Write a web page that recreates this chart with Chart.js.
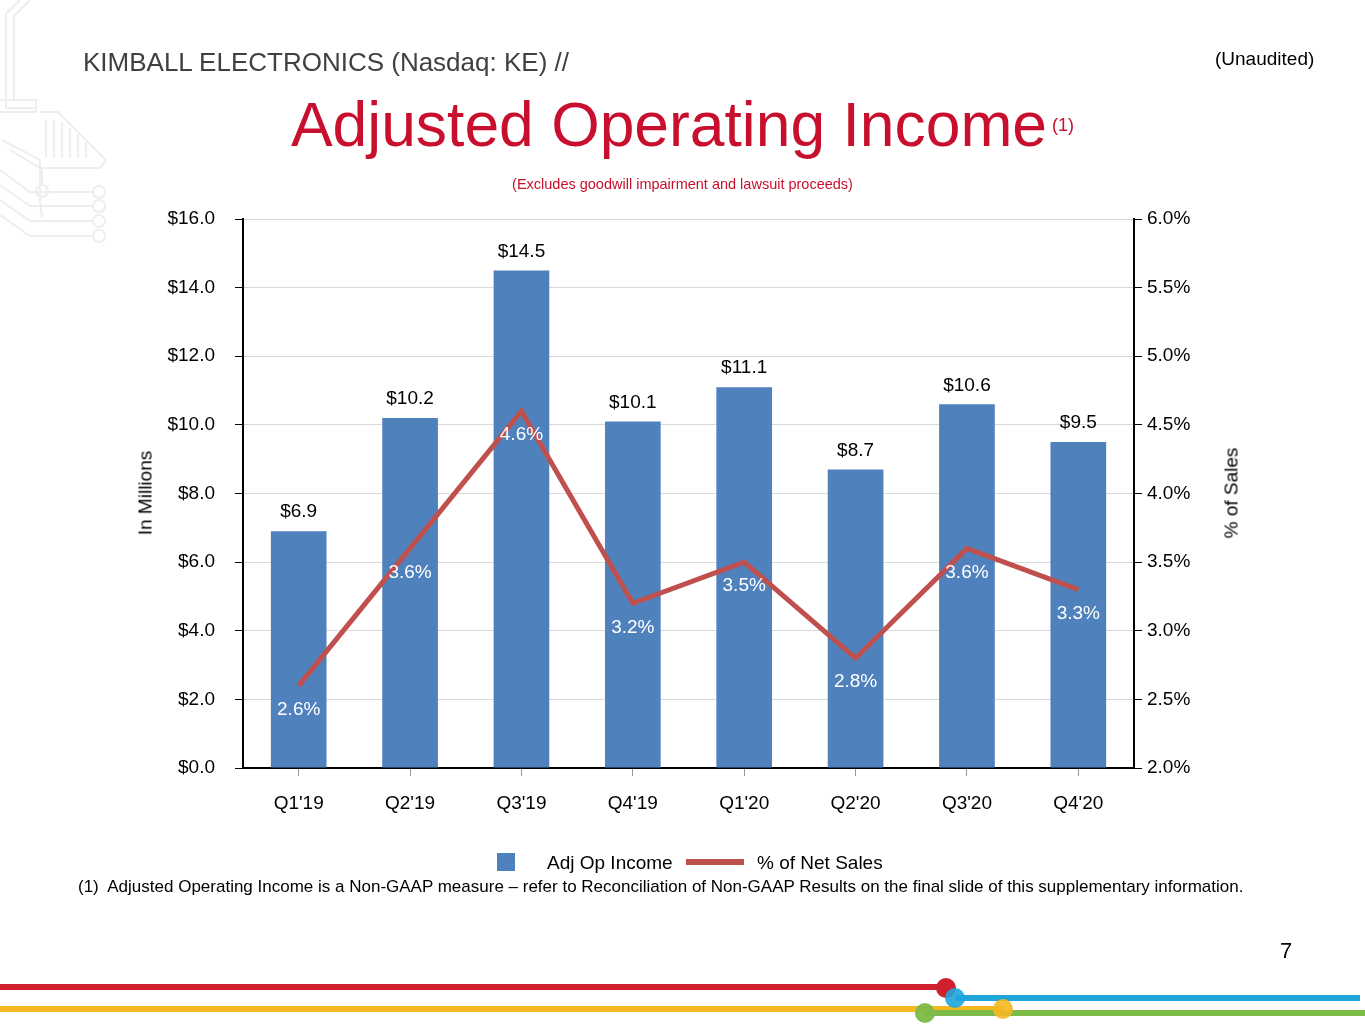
<!DOCTYPE html>
<html>
<head>
  <meta charset="utf-8">
  <title>Adjusted Operating Income</title>
  <script src="https://cdn.jsdelivr.net/npm/chart.js"></script>
  <style>
    body { margin: 0; background: #fff; font-family: "Liberation Sans", Arial, sans-serif; }
    #page { position: relative; width: 1365px; height: 1024px; overflow: hidden; }
    #chart { position: absolute; left: 0; top: 0; }
    .txt { position: absolute; white-space: nowrap; line-height: 1; }
    .rot { position: absolute; white-space: nowrap; line-height: 1; transform: translate(-50%, -50%) rotate(-90deg); font-size: 19px; color: #000; }
    svg { position: absolute; left: 0; top: 0; }
  </style>
</head>
<body>
<div id="page">
  <svg width="1365" height="1024">
    <!-- faint circuit decoration -->
    <g fill="none" stroke="#eeeeee" stroke-width="2">
      <polyline points="30,0 14,16 14,100 38,100"/>
      <polyline points="20,0 6,14 6,108 34,108"/>
      <polyline points="0,100 36,100 36,112 0,112"/>
      <polyline points="2,140 40,160 40,200 42,218"/>
      <polyline points="40,112 58,112 106,160 100,168 40,168 10,150"/>
      <line x1="46" y1="120" x2="46" y2="158"/><line x1="54" y1="120" x2="54" y2="158"/>
      <line x1="62" y1="122" x2="62" y2="158"/><line x1="70" y1="128" x2="70" y2="158"/>
      <line x1="78" y1="134" x2="78" y2="158"/><line x1="86" y1="142" x2="86" y2="158"/>
      <polyline points="42,168 42,184"/>
      <circle cx="42" cy="191" r="6"/>
      <polyline points="0,170 30,192 92,192"/>
      <polyline points="0,185 30,206 92,206"/>
      <polyline points="0,200 30,221 92,221"/>
      <polyline points="0,215 30,236 92,236"/>
      <circle cx="99" cy="192" r="6"/><circle cx="99" cy="206" r="6"/>
      <circle cx="99" cy="221" r="6"/><circle cx="99" cy="236" r="6"/>
    </g>
    <!-- bottom decorative lines -->
    <line x1="0" y1="987" x2="945" y2="987" stroke="#d0202e" stroke-width="6"/>
    <line x1="0" y1="1009" x2="1003" y2="1009" stroke="#f6b820" stroke-width="6"/>
    <line x1="955" y1="998" x2="1360" y2="998" stroke="#1ea6db" stroke-width="6"/>
    <line x1="925" y1="1013" x2="1365" y2="1013" stroke="#7cbb47" stroke-width="6"/>
    <circle cx="925" cy="1013" r="10" fill="#7cbb47" opacity="0.95"/>
    <circle cx="1003" cy="1009" r="10" fill="#f6b820" opacity="0.9"/>
    <circle cx="946" cy="988" r="10" fill="#d0202e"/>
    <circle cx="955" cy="998" r="10" fill="#1ea6db" opacity="0.9"/>
  </svg>

  <canvas id="chart" width="1365" height="1024"></canvas>

  <div class="txt" style="left:83px; top:49px; font-size:26px; color:#404040;">KIMBALL ELECTRONICS (Nasdaq: KE) //</div>
  <div class="txt" style="left:1215px; top:49px; font-size:19px; color:#000;">(Unaudited)</div>
  <div class="txt" style="left:291px; top:94px; font-size:62.4px; color:#c8102e;">Adjusted Operating Income<span style="font-size:18px; vertical-align:top; position:relative; top:22px; left:5px;">(1)</span></div>
  <div class="txt" style="left:0; width:1365px; text-align:center; top:177px; font-size:14.5px; color:#c8102e;">(Excludes goodwill impairment and lawsuit proceeds)</div>

  <div class="rot" style="left:145px; top:493px;">In Millions</div>
  <div class="rot" style="left:1231px; top:493px;">% of Sales</div>

  <!-- legend -->
  <div style="position:absolute; left:497px; top:853px; width:18px; height:18px; background:#4f81bd;"></div>
  <div class="txt" style="left:547px; top:853px; font-size:19px; color:#000;">Adj Op Income</div>
  <div style="position:absolute; left:686px; top:859px; width:58px; height:6px; background:#c0504d;"></div>
  <div class="txt" style="left:757px; top:853px; font-size:19px; color:#000;">% of Net Sales</div>

  <div class="txt" style="left:78px; top:878px; font-size:17px; color:#000;">(1)&nbsp; Adjusted Operating Income is a Non-GAAP measure – refer to Reconciliation of Non-GAAP Results on the final slide of this supplementary information.</div>
  <div class="txt" style="left:1280px; top:940px; font-size:22px; color:#000;">7</div>
</div>

<script>
  const categories = ["Q1'19", "Q2'19", "Q3'19", "Q4'19", "Q1'20", "Q2'20", "Q3'20", "Q4'20"];
  const adjOpIncome = [6.9, 10.2, 14.5, 10.1, 11.1, 8.7, 10.6, 9.5];
  const pctNetSales = [2.6, 3.6, 4.6, 3.2, 3.5, 2.8, 3.6, 3.3];
  const incomeAxis = { min: 0, max: 16, step: 2 };
  const pctAxis = { min: 2, max: 6, step: 0.5 };

  const FONT = '"Liberation Sans", Arial, sans-serif';

  // value labels: $ above bars, % (white) under line points
  const valueLabels = {
    id: 'valueLabels',
    afterDatasetsDraw(chart) {
      const ctx = chart.ctx;
      ctx.save();
      ctx.textAlign = 'center';
      ctx.textBaseline = 'middle';
      ctx.font = '19px ' + FONT;
      chart.getDatasetMeta(1).data.forEach((bar, i) => {
        ctx.fillStyle = '#000';
        ctx.fillText('$' + adjOpIncome[i].toFixed(1), bar.x, bar.y - 19);
      });
      chart.getDatasetMeta(0).data.forEach((pt, i) => {
        ctx.fillStyle = '#fff';
        ctx.fillText(pctNetSales[i].toFixed(1) + '%', pt.x, pt.y + 24);
      });
      ctx.restore();
    }
  };

  Chart.defaults.font.family = FONT;
  Chart.defaults.color = '#000';

  new Chart(document.getElementById('chart'), {
    data: {
      labels: categories,
      datasets: [
        {
          type: 'line',
          label: '% of Net Sales',
          data: pctNetSales,
          yAxisID: 'y1',
          borderColor: '#c0504d',
          borderWidth: 5,
          pointRadius: 0,
          tension: 0,
          borderJoinStyle: 'miter',
          order: 0
        },
        {
          type: 'bar',
          label: 'Adj Op Income',
          data: adjOpIncome,
          yAxisID: 'y',
          backgroundColor: '#4f81bd',
          barPercentage: 0.5,
          categoryPercentage: 1.0,
          order: 1
        }
      ]
    },
    options: {
      responsive: false,
      animation: false,
      devicePixelRatio: 1,
      layout: { padding: { top: 219, left: 0, right: 0, bottom: 0 } },
      plugins: { legend: { display: false }, tooltip: { enabled: false } },
      scales: {
        x: {
          offset: true,
          grid: { drawOnChartArea: false, offset: false, tickColor: '#999', tickLength: 8 },
          border: { color: '#000', width: 2 },
          ticks: { font: { size: 19 }, color: '#000', padding: 16, maxRotation: 0 },
          afterFit(s) { s.height = 256; }
        },
        y: {
          position: 'left',
          min: incomeAxis.min,
          max: incomeAxis.max,
          grid: { color: '#d9d9d9', lineWidth: 1, tickColor: '#000', tickLength: 8 },
          border: { color: '#000', width: 2 },
          ticks: {
            stepSize: incomeAxis.step,
            font: { size: 19 },
            color: '#000',
            padding: 20,
            callback: v => '$' + v.toFixed(1)
          },
          afterFit(s) { s.width = 243; }
        },
        y1: {
          position: 'right',
          min: pctAxis.min,
          max: pctAxis.max,
          grid: { drawOnChartArea: false, tickColor: '#000', tickLength: 8 },
          border: { color: '#000', width: 2 },
          ticks: {
            stepSize: pctAxis.step,
            font: { size: 19 },
            color: '#000',
            padding: 5,
            callback: v => v.toFixed(1) + '%'
          },
          afterFit(s) { s.width = 231; }
        }
      }
    },
    plugins: [valueLabels]
  });
</script>
</body>
</html>
